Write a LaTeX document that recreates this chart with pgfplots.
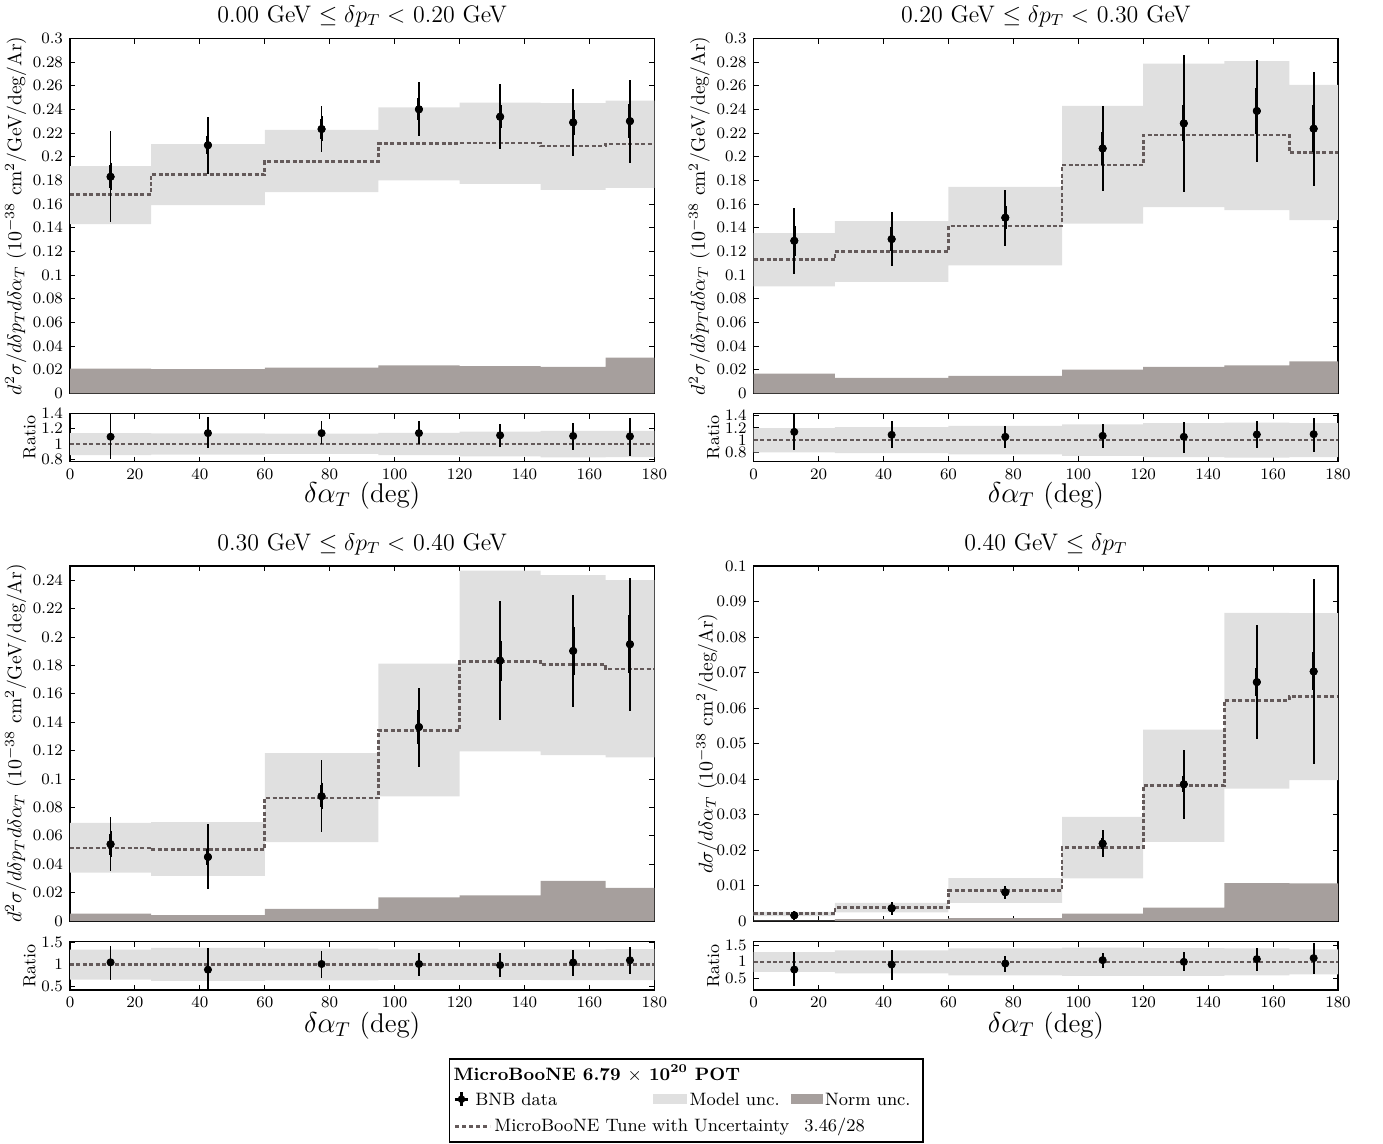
\documentclass[border=0pt]{standalone}
\usepackage{pgfplots}
\usepackage{pgfplotstable}
\pgfplotsset{compat=1.18}

\definecolor{bandgray}{RGB}{224,224,224}
\definecolor{normgray}{RGB}{166,159,157}
\definecolor{modelc}{RGB}{100,90,90}

% ===== panel A (top left) =====
\pgfplotstableread[row sep=\\]{x y tp tm ip im\\
12.5 0.1830 0.0390 0.0386 0.0098 0.0092\\ 42.5 0.2097 0.0238 0.0243 0.0079 0.0076\\
77.5 0.2233 0.0195 0.0198 0.0085 0.0082\\ 107.5 0.2400 0.0231 0.0229 0.0099 0.0094\\
132.5 0.2337 0.0280 0.0271 0.0099 0.0093\\ 155 0.2289 0.0280 0.0282 0.0102 0.0104\\
172.5 0.2300 0.0351 0.0355 0.0145 0.0143\\}\dataA
\pgfplotstableread[row sep=\\]{x y\\
0 0.1680\\ 25 0.1850\\ 60 0.1960\\ 95 0.2110\\ 120 0.2114\\ 145 0.2090\\ 165 0.2106\\ 180 0.2106\\}\modelA
\pgfplotstableread[row sep=\\]{x y\\
0 0.192\\ 25 0.2106\\ 60 0.2227\\ 95 0.2417\\ 120 0.2456\\ 145 0.2453\\ 165 0.2473\\ 180 0.2473\\
180 0.1735\\ 165 0.172\\ 145 0.177\\ 120 0.180\\ 95 0.170\\ 60 0.159\\ 25 0.143\\ 0 0.143\\}\bandA
\pgfplotstableread[row sep=\\]{x y\\
0 0.0209\\ 25 0.0204\\ 60 0.0218\\ 95 0.0235\\ 120 0.0229\\ 145 0.0223\\ 165 0.0302\\ 180 0.0302\\ 180 0\\ 0 0\\}\normA
\pgfplotstableread[row sep=\\]{x y\\
0 1.143\\ 25 1.138\\ 60 1.136\\ 95 1.145\\ 120 1.162\\ 145 1.174\\ 165 1.174\\ 180 1.174\\
180 0.824\\ 165 0.823\\ 145 0.837\\ 120 0.853\\ 95 0.867\\ 60 0.859\\ 25 0.851\\ 0 0.851\\}\rbandA
\pgfplotstableread[row sep=\\]{x r rp rm\\
12.5 1.095 0.300 0.295\\ 42.5 1.143 0.207 0.193\\ 77.5 1.143 0.157 0.148\\ 107.5 1.143 0.157 0.148\\
132.5 1.114 0.156 0.157\\ 155 1.105 0.171 0.181\\ 172.5 1.100 0.243 0.257\\}\ratA

% ===== panel B (top right) =====
\pgfplotstableread[row sep=\\]{x y tp tm ip im\\
12.5 0.1289 0.0280 0.0280 0.0127 0.0125\\ 42.5 0.1303 0.0232 0.0229 0.0102 0.0099\\
77.5 0.1484 0.0232 0.0238 0.0099 0.0099\\ 107.5 0.2069 0.0356 0.0359 0.0141 0.0139\\
132.5 0.2281 0.0582 0.0580 0.0153 0.0147\\ 155 0.2386 0.0429 0.0433 0.0194 0.0196\\
172.5 0.2236 0.0477 0.0481 0.0200 0.0201\\}\dataB
\pgfplotstableread[row sep=\\]{x y\\
0 0.1130\\ 25 0.1200\\ 60 0.1413\\ 95 0.1930\\ 120 0.2182\\ 145 0.2182\\ 165 0.2035\\ 180 0.2035\\}\modelB
\pgfplotstableread[row sep=\\]{x y\\
0 0.1354\\ 25 0.1456\\ 60 0.1744\\ 95 0.2428\\ 120 0.2787\\ 145 0.2807\\ 165 0.2606\\ 180 0.2606\\
180 0.1464\\ 165 0.1549\\ 145 0.1574\\ 120 0.1433\\ 95 0.108\\ 60 0.0941\\ 25 0.0904\\ 0 0.0904\\}\bandB
\pgfplotstableread[row sep=\\]{x y\\
0 0.0167\\ 25 0.0130\\ 60 0.0147\\ 95 0.0201\\ 120 0.0223\\ 145 0.0235\\ 165 0.0269\\ 180 0.0269\\ 180 0\\ 0 0\\}\normB
\pgfplotstableread[row sep=\\]{x y\\
0 1.198\\ 25 1.213\\ 60 1.234\\ 95 1.258\\ 120 1.277\\ 145 1.286\\ 165 1.280\\ 180 1.280\\
180 0.719\\ 165 0.710\\ 145 0.721\\ 120 0.742\\ 95 0.764\\ 60 0.784\\ 25 0.800\\ 0 0.800\\}\rbandB
\pgfplotstableread[row sep=\\]{x r rp rm\\
12.5 1.135 0.295 0.295\\ 42.5 1.086 0.224 0.221\\ 77.5 1.054 0.176 0.189\\ 107.5 1.070 0.200 0.205\\
132.5 1.054 0.243 0.270\\ 155 1.092 0.218 0.227\\ 172.5 1.097 0.263 0.287\\}\ratB

% ===== panel C (bottom left) =====
\pgfplotstableread[row sep=\\]{x y tp tm ip im\\
12.5 0.0541 0.0190 0.0191 0.0075 0.0073\\ 42.5 0.0451 0.0233 0.0228 0.0054 0.0054\\
77.5 0.0879 0.0252 0.0249 0.0078 0.0073\\ 107.5 0.1366 0.0275 0.0278 0.0120 0.0118\\
132.5 0.1834 0.0418 0.0421 0.0138 0.0141\\ 155 0.1902 0.0392 0.0395 0.0171 0.0170\\
172.5 0.1949 0.0470 0.0470 0.0209 0.0205\\}\dataC
\pgfplotstableread[row sep=\\]{x y\\
0 0.0515\\ 25 0.0503\\ 60 0.0867\\ 95 0.1342\\ 120 0.1829\\ 145 0.1805\\ 165 0.1775\\ 180 0.1775\\}\modelC
\pgfplotstableread[row sep=\\]{x y\\
0 0.0691\\ 25 0.0696\\ 60 0.1182\\ 95 0.1812\\ 120 0.2468\\ 145 0.2435\\ 165 0.2400\\ 180 0.2400\\
180 0.1152\\ 165 0.1168\\ 145 0.1194\\ 120 0.0877\\ 95 0.0555\\ 60 0.0317\\ 25 0.0341\\ 0 0.0341\\}\bandC
\pgfplotstableread[row sep=\\]{x y\\
0 0.0052\\ 25 0.0042\\ 60 0.0085\\ 95 0.0167\\ 120 0.0181\\ 145 0.0282\\ 165 0.0233\\ 180 0.0233\\ 180 0\\ 0 0\\}\normC
\pgfplotstableread[row sep=\\]{x y\\
0 1.342\\ 25 1.384\\ 60 1.363\\ 95 1.350\\ 120 1.349\\ 145 1.349\\ 165 1.352\\ 180 1.352\\
180 0.649\\ 165 0.647\\ 145 0.653\\ 120 0.654\\ 95 0.640\\ 60 0.630\\ 25 0.662\\ 0 0.662\\}\rbandC
\pgfplotstableread[row sep=\\]{x r rp rm\\
12.5 1.053 0.377 0.403\\ 42.5 0.886 0.484 0.486\\ 77.5 1.015 0.305 0.315\\ 107.5 1.015 0.255 0.265\\
132.5 0.990 0.270 0.270\\ 155 1.050 0.280 0.300\\ 172.5 1.100 0.310 0.320\\}\ratC

% ===== panel D (bottom right) =====
\pgfplotstableread[row sep=\\]{x y tp tm ip im\\
12.5 0.0016 0.0012 0.0012 0.0004 0.0005\\ 42.5 0.0036 0.0017 0.0018 0.0006 0.0008\\
77.5 0.0081 0.0019 0.0019 0.0006 0.0008\\ 107.5 0.0218 0.0037 0.0037 0.0016 0.0016\\
132.5 0.0385 0.0097 0.0098 0.0023 0.0023\\ 155 0.0673 0.0162 0.0161 0.0039 0.0039\\
172.5 0.0703 0.0259 0.0261 0.0054 0.0053\\}\dataD
\pgfplotstableread[row sep=\\]{x y\\
0 0.00207\\ 25 0.00385\\ 60 0.00854\\ 95 0.02066\\ 120 0.0382\\ 145 0.0621\\ 165 0.0632\\ 180 0.0632\\}\modelD
\pgfplotstableread[row sep=\\]{x y\\
0 0.0026\\ 25 0.0051\\ 60 0.0121\\ 95 0.0293\\ 120 0.0539\\ 145 0.0868\\ 165 0.0867\\ 180 0.0867\\
180 0.0397\\ 165 0.0373\\ 145 0.0223\\ 120 0.0120\\ 95 0.0051\\ 60 0.0024\\ 25 0.0014\\ 0 0.0014\\}\bandD
\pgfplotstableread[row sep=\\]{x y\\
0 0.0001\\ 25 0.0005\\ 60 0.0008\\ 95 0.0021\\ 120 0.0038\\ 145 0.0107\\ 165 0.0106\\ 180 0.0106\\ 180 0\\ 0 0\\}\normD
\pgfplotstableread[row sep=\\]{x y\\
0 1.29\\ 25 1.34\\ 60 1.40\\ 95 1.42\\ 120 1.41\\ 145 1.40\\ 165 1.37\\ 180 1.37\\
180 0.63\\ 165 0.60\\ 145 0.58\\ 120 0.58\\ 95 0.60\\ 60 0.66\\ 25 0.70\\ 0 0.70\\}\rbandD
\pgfplotstableread[row sep=\\]{x r rp rm\\
12.5 0.77 0.51 0.50\\ 42.5 0.92 0.44 0.45\\ 77.5 0.95 0.23 0.24\\ 107.5 1.05 0.21 0.22\\
132.5 1.00 0.28 0.28\\ 155 1.08 0.32 0.34\\ 172.5 1.11 0.44 0.46\\}\ratD

\pgfplotsset{
  base/.style={scale only axis, width=292.15bp, anchor=north west,
    xmin=0, xmax=180, xtick={0,20,...,180},
    tick align=inside, major tick length=2.6bp,
    axis line style={line width=0.6pt}, tick style={line width=0.45pt, black},
    tick label style={font=\fontsize{8}{9}\selectfont},
    scaled y ticks=false,
    yticklabel style={/pgf/number format/fixed, /pgf/number format/precision=2},
  },
  main/.style={base, height=177.5bp, xticklabels={},
    title style={font=\fontsize{12}{14}\selectfont, at={(0.5,1)}, anchor=base, yshift=2bp},
    ylabel style={font=\fontsize{9.8}{12}\selectfont, at={(axis description cs:-0.093,0.5)}, anchor=center},
  },
  ratio/.style={base, height=24.2bp, ylabel={Ratio},
    yticklabel style={font=\fontsize{7.6}{8}\selectfont},
    ylabel style={font=\fontsize{8.8}{11}\selectfont, at={(axis description cs:-0.069,0.5)}, anchor=center},
    xlabel={$\delta\alpha_T$ (deg)},
    xlabel style={font=\fontsize{13.6}{16}\selectfont, at={(axis description cs:0.5,0)}, anchor=base, yshift=-20.2bp},
  },
  modelline/.style={const plot, color=modelc, line width=1.3bp, dash pattern=on 2bp off 1.2bp},
  toterr/.style={black, only marks, mark=*, mark size=1.8bp,
    error bars/y dir=both, error bars/y explicit, error bars/error mark=none,
    error bars/error bar style={line width=0.9bp, black, solid}},
  inerr/.style={black, only marks, mark=*, mark size=1.8bp,
    error bars/y dir=both, error bars/y explicit, error bars/error mark=-,
    error bars/error bar style={line width=1.5bp, black, solid},
    error bars/error mark options={line width=1bp, black, mark size=1.3bp}},
}

\newcommand{\mainpanel}[4]{%
  \addplot[const plot, fill=bandgray, draw=none] table[x=x, y=y] {#1};
  \addplot[const plot, fill=normgray, draw=none] table[x=x, y=y] {#2};
  \addplot[modelline] table[x=x, y=y] {#3};
  \addplot[toterr] table[x=x, y=y, y error plus=tp, y error minus=tm] {#4};
  \addplot[inerr] table[x=x, y=y, y error plus=ip, y error minus=im] {#4};
}
\newcommand{\ratiopanel}[2]{%
  \addplot[const plot, fill=bandgray, draw=none] table[x=x, y=y] {#1};
  \addplot[color=modelc, line width=1.3bp, dash pattern=on 2bp off 1.2bp] coordinates {(0,1) (180,1)};
  \addplot[toterr] table[x=x, y=r, y error plus=rp, y error minus=rm] {#2};
}

\begin{document}
\begin{tikzpicture}
\useasboundingbox (0,0) rectangle (691.5bp,-572bp);

% ---------------- top left ----------------
\begin{axis}[main, at={(35bp,-19.15bp)}, ymin=0, ymax=0.3,
  ytick={0,0.02,0.04,0.06,0.08,0.1,0.12,0.14,0.16,0.18,0.2,0.22,0.24,0.26,0.28,0.3},
  title={0.00 GeV $\leq \delta p_T <$ 0.20 GeV},
  ylabel={$d^2\sigma/d\delta p_T d\delta\alpha_T$ ($10^{-38}$ cm$^2$/GeV/deg/Ar)}]
\mainpanel{\bandA}{\normA}{\modelA}{\dataA}
\end{axis}
\begin{axis}[ratio, at={(35bp,-206.65bp)}, ymin=0.765, ymax=1.405, ytick={0.8,1,1.2,1.4}]
\ratiopanel{\rbandA}{\ratA}
\end{axis}

% ---------------- top right ----------------
\begin{axis}[main, at={(376.85bp,-19.15bp)}, ymin=0, ymax=0.3,
  ytick={0,0.02,0.04,0.06,0.08,0.1,0.12,0.14,0.16,0.18,0.2,0.22,0.24,0.26,0.28,0.3},
  title={0.20 GeV $\leq \delta p_T <$ 0.30 GeV},
  ylabel={$d^2\sigma/d\delta p_T d\delta\alpha_T$ ($10^{-38}$ cm$^2$/GeV/deg/Ar)}]
\mainpanel{\bandB}{\normB}{\modelB}{\dataB}
\end{axis}
\begin{axis}[ratio, at={(376.85bp,-206.65bp)}, ymin=0.645, ymax=1.44, ytick={0.8,1,1.2,1.4}]
\ratiopanel{\rbandB}{\ratB}
\end{axis}

% ---------------- bottom left ----------------
\begin{axis}[main, at={(35bp,-283bp)}, ymin=0, ymax=0.25,
  ytick={0,0.02,0.04,0.06,0.08,0.1,0.12,0.14,0.16,0.18,0.2,0.22,0.24},
  title={0.30 GeV $\leq \delta p_T <$ 0.40 GeV},
  ylabel={$d^2\sigma/d\delta p_T d\delta\alpha_T$ ($10^{-38}$ cm$^2$/GeV/deg/Ar)}]
\mainpanel{\bandC}{\normC}{\modelC}{\dataC}
\end{axis}
\begin{axis}[ratio, at={(35bp,-470.75bp)}, ymin=0.425, ymax=1.527, ytick={0.5,1,1.5},
  xlabel style={yshift=-1bp}]
\ratiopanel{\rbandC}{\ratC}
\end{axis}

% ---------------- bottom right ----------------
\begin{axis}[main, at={(376.85bp,-283bp)}, ymin=0, ymax=0.1,
  ytick={0,0.01,0.02,0.03,0.04,0.05,0.06,0.07,0.08,0.09,0.1},
  title={0.40 GeV $\leq \delta p_T$},
  ylabel style={at={(axis description cs:-0.080,0.5)}},
  ylabel={$d\sigma/d\delta\alpha_T$ ($10^{-38}$ cm$^2$/deg/Ar)}]
\mainpanel{\bandD}{\normD}{\modelD}{\dataD}
\end{axis}
\begin{axis}[ratio, at={(376.85bp,-470.75bp)}, ymin=0.165, ymax=1.604, ytick={0.5,1,1.5},
  xlabel style={yshift=-1bp}]
\ratiopanel{\rbandD}{\ratD}
\end{axis}

% ---------------- legend ----------------
\draw[line width=0.6pt] (224.7bp,-529.5bp) rectangle (461.5bp,-571bp);
\node[inner sep=0pt, anchor=base west, font=\fontsize{9}{11}\selectfont\bfseries] at (226.6bp,-540bp) {MicroBooNE 6.79 $\times$ 10$^{\mathbf{20}}$ POT};
\fill[black] (230.75bp,-549.6bp) circle (1.9bp);
\draw[black, line width=1.3bp] (230.75bp,-546.2bp) -- (230.75bp,-553bp);
\draw[black, line width=1.3bp] (227.4bp,-549.6bp) -- (234.1bp,-549.6bp);
\node[inner sep=0pt, anchor=base west, font=\fontsize{9}{11}\selectfont] at (237.5bp,-552.6bp) {BNB data};
\fill[bandgray] (326.5bp,-547.2bp) rectangle (343.5bp,-552bp);
\node[inner sep=0pt, anchor=base west, font=\fontsize{9}{11}\selectfont] at (344.6bp,-552.6bp) {Model unc.};
\fill[normgray] (395.5bp,-547.2bp) rectangle (411.5bp,-552bp);
\node[inner sep=0pt, anchor=base west, font=\fontsize{9}{11}\selectfont] at (412.3bp,-552.6bp) {Norm unc.};
\draw[color=modelc, line width=1.5bp, dash pattern=on 2.2bp off 1.3bp] (227.5bp,-563bp) -- (245bp,-563bp);
\node[inner sep=0pt, anchor=base west, font=\fontsize{9}{11}\selectfont] at (247bp,-565.6bp) {MicroBooNE Tune with Uncertainty};
\node[inner sep=0pt, anchor=base west, font=\fontsize{9}{11}\selectfont] at (402bp,-565.6bp) {3.46/28};
\end{tikzpicture}
\end{document}
